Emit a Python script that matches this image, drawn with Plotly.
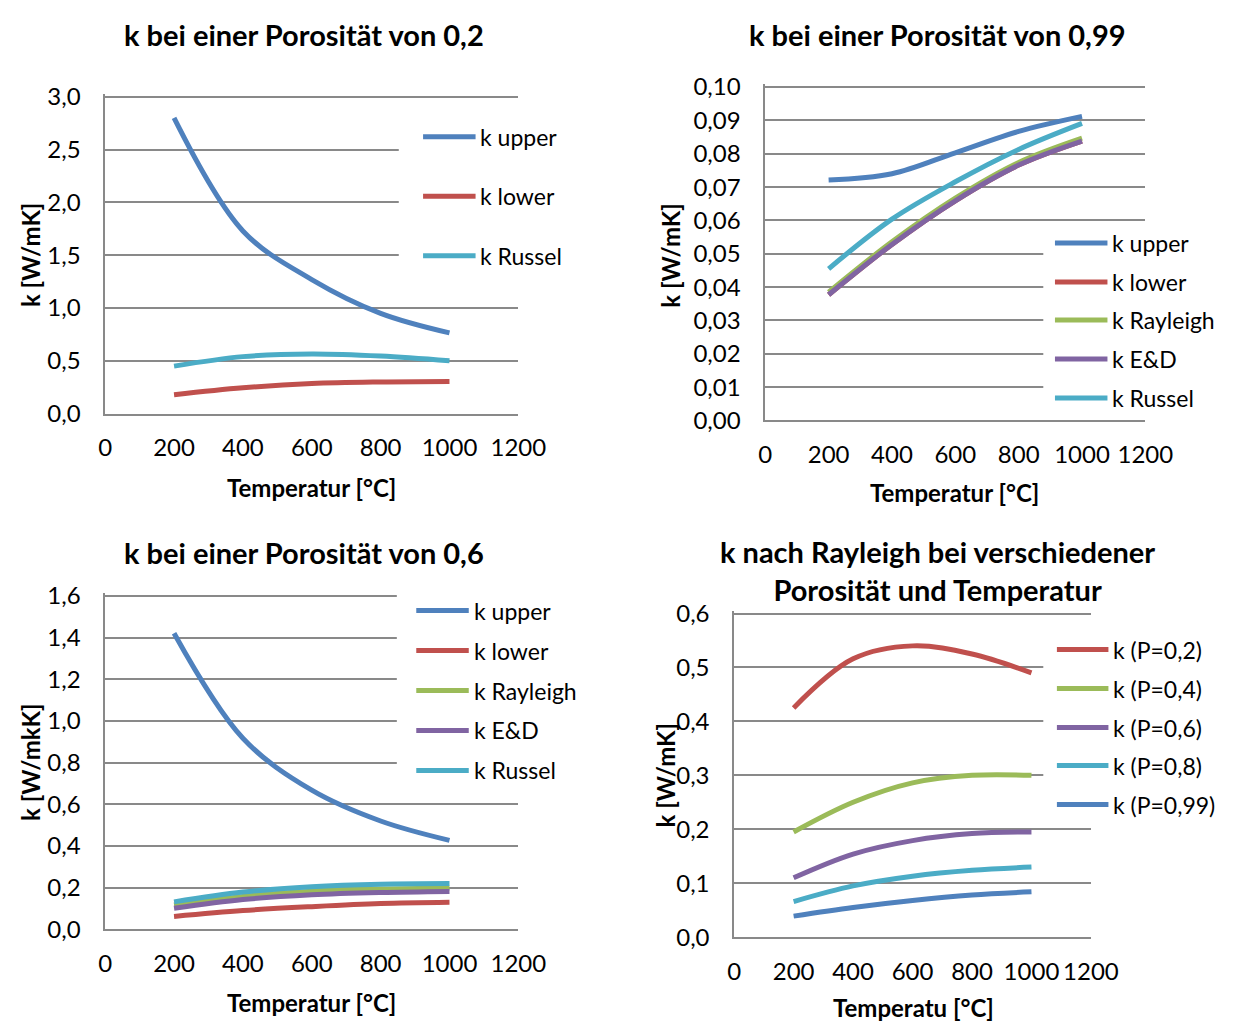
import plotly.graph_objects as go

# Temperatures [°C]
temps = [200, 400, 600, 800, 1000]

# Porosity 0.2
p02_upper = [2.80, 1.73, 1.27, 0.95, 0.765]
p02_lower = [0.18, 0.245, 0.285, 0.30, 0.305]
p02_russel = [0.45, 0.54, 0.565, 0.545, 0.50]

# Porosity 0.99
p099_upper = [0.0721, 0.0740, 0.0803, 0.0867, 0.0912]
p099_lower = [0.0377, 0.0528, 0.0659, 0.0766, 0.0838]
p099_rayleigh = [0.0385, 0.0536, 0.0667, 0.0774, 0.0847]
p099_ed = [0.0377, 0.0528, 0.0659, 0.0766, 0.0838]
p099_russel = [0.0455, 0.0604, 0.0716, 0.0813, 0.0891]

# Porosity 0.6
p06_upper = [1.421, 0.917, 0.668, 0.52, 0.427]
p06_lower = [0.062, 0.090, 0.109, 0.124, 0.130]
p06_rayleigh = [0.117, 0.158, 0.183, 0.194, 0.199]
p06_ed = [0.101, 0.143, 0.166, 0.177, 0.182]
p06_russel = [0.132, 0.179, 0.205, 0.217, 0.220]

# Rayleigh model at different porosities
ray_p02 = [0.425, 0.516, 0.540, 0.525, 0.490]
ray_p04 = [0.195, 0.250, 0.286, 0.300, 0.300]
ray_p06 = [0.110, 0.154, 0.179, 0.192, 0.195]
ray_p08 = [0.066, 0.095, 0.113, 0.124, 0.130]
ray_p099 = [0.039, 0.055, 0.068, 0.078, 0.084]

BLUE, RED, GREEN, PURPLE, CYAN = "#4F81BD", "#C0504D", "#9BBB59", "#8064A2", "#4BACC6"
GRID = "#898989"
FONT = "Lato"
W, H = 1256, 1034
LW = 5
PAD = 3  # headroom (px) so the top gridline is not clipped at the plot edge


def px(x):
    return x / W


def py(y):
    return 1 - y / H


panels = [
    dict(xa="x", ya="y", xdom=(101, 526), ydom=(411, 86), ymax=3.0, dtick=0.5, fmt=".1f",
         series=[("k upper", p02_upper, BLUE), ("k lower", p02_lower, RED), ("k Russel", p02_russel, CYAN)],
         title="k bei einer Porosität von 0,2", tpos=(305, 22),
         xtitle="Temperatur [°C]", xtpos=(313, 487), ytitle="k [W/mK]", ytpos=(24, 248),
         leg=dict(x0=428, x1=482, ys=[127, 188, 249]), box=(403, 100, 620, 285)),
    dict(xa="x2", ya="y2", xdom=(780, 1171), ydom=(418, 76), ymax=0.10, dtick=0.01, fmt=".2f",
         series=[("k upper", p099_upper, BLUE), ("k lower", p099_lower, RED),
                 ("k Rayleigh", p099_rayleigh, GREEN), ("k E&D", p099_ed, PURPLE),
                 ("k Russel", p099_russel, CYAN)],
         title="k bei einer Porosität von 0,99", tpos=(957, 22),
         xtitle="Temperatur [°C]", xtpos=(975, 492), ytitle="k [W/mK]", ytpos=(683, 248),
         leg=dict(x0=1078, x1=1132, ys=[236, 276, 315, 355, 395]), box=(1066, 222, 1256, 405)),
    dict(xa="x3", ya="y3", xdom=(101, 526), ydom=(940, 598), ymax=1.6, dtick=0.2, fmt=".1f",
         series=[("k upper", p06_upper, BLUE), ("k lower", p06_lower, RED),
                 ("k Rayleigh", p06_rayleigh, GREEN), ("k E&D", p06_ed, PURPLE),
                 ("k Russel", p06_russel, CYAN)],
         title="k bei einer Porosität von 0,6", tpos=(305, 553),
         xtitle="Temperatur [°C]", xtpos=(313, 1015), ytitle="k [W/mkK]", ytpos=(24, 768),
         leg=dict(x0=421, x1=475, ys=[613, 654, 695, 736, 777]), box=(401, 588, 620, 797)),
    dict(xa="x4", ya="y4", xdom=(748, 1115), ydom=(948, 616), ymax=0.6, dtick=0.1, fmt=".1f",
         series=[("k (P=0,2)", ray_p02, RED), ("k (P=0,4)", ray_p04, GREEN),
                 ("k (P=0,6)", ray_p06, PURPLE), ("k (P=0,8)", ray_p08, CYAN),
                 ("k (P=0,99)", ray_p099, BLUE)],
         title="k nach Rayleigh bei verschiedener<br>Porosität und Temperatur", tpos=(957, 572),
         xtitle="Temperatu [°C]", xtpos=(932, 1020), ytitle="k [W/mK]", ytpos=(677, 782),
         leg=dict(x0=1080, x1=1133, ys=[653, 693, 733, 772, 812]), box=(1066, 632, 1256, 826)),
]

fig = go.Figure()
shapes, annotations = [], []
layout = dict(
    width=W, height=H, margin=dict(l=0, r=0, t=0, b=0),
    paper_bgcolor="white", plot_bgcolor="white", showlegend=False,
    separators=", ", font=dict(family=FONT, size=22, color="#000000"),
)

for i, p in enumerate(panels):
    n = "" if i == 0 else str(i + 1)
    for name, vals, col in p["series"]:
        fig.add_trace(go.Scatter(
            x=temps, y=vals, name=name, mode="lines", xaxis=p["xa"], yaxis=p["ya"],
            line=dict(color=col, width=LW, shape="spline", smoothing=1.0),
        ))
    layout["xaxis" + n] = dict(
        domain=[px(p["xdom"][0]), px(p["xdom"][1])], anchor=p["ya"], range=[0, 1200],
        dtick=200, tick0=0, tickformat="d", showgrid=False, zeroline=False,
        showline=True, linecolor=GRID, linewidth=1.6,
        ticks="", ticklabelstandoff=12, tickfont=dict(family=FONT, size=24, color="#000"),
    )
    y_bot, y_top = p["ydom"]
    span = y_bot - y_top
    layout["yaxis" + n] = dict(
        domain=[py(y_bot), py(y_top - PAD)], anchor=p["xa"],
        range=[0, p["ymax"] * (span + PAD) / span],
        dtick=p["dtick"], tick0=0, tickformat=p["fmt"], showgrid=True, gridcolor=GRID,
        gridwidth=1.6, zeroline=False, showline=True, linecolor=GRID, linewidth=1.6,
        ticks="", ticklabelstandoff=18, tickfont=dict(family=FONT, size=24, color="#000"),
    )
    # legend background hiding the gridlines behind it
    bx0, by0, bx1, by1 = p["box"]
    shapes.append(dict(type="rect", xref="paper", yref="paper", x0=px(bx0), x1=px(bx1),
                       y0=py(by1), y1=py(by0), fillcolor="white", line=dict(width=0),
                       layer="above"))
    leg = p["leg"]
    for (name, _, col), yy in zip(p["series"], leg["ys"]):
        shapes.append(dict(type="line", xref="paper", yref="paper", x0=px(leg["x0"]),
                           x1=px(leg["x1"]), y0=py(yy), y1=py(yy),
                           line=dict(color=col, width=LW), layer="above"))
        annotations.append(dict(text=name, xref="paper", yref="paper", x=px(leg["x1"] + 3),
                                y=py(yy), xanchor="left", yanchor="middle", showarrow=False,
                                font=dict(family=FONT, size=23, color="#000")))
    annotations.append(dict(text="<b>%s</b>" % p["title"], xref="paper", yref="paper",
                            x=px(p["tpos"][0]), y=py(p["tpos"][1]), xanchor="center",
                            yanchor="middle", showarrow=False,
                            font=dict(family=FONT, size=29, color="#000")))
    annotations.append(dict(text="<b>%s</b>" % p["xtitle"], xref="paper", yref="paper",
                            x=px(p["xtpos"][0]), y=py(p["xtpos"][1]), xanchor="center",
                            yanchor="middle", showarrow=False,
                            font=dict(family=FONT, size=24, color="#000")))
    annotations.append(dict(text="<b>%s</b>" % p["ytitle"], xref="paper", yref="paper",
                            x=px(p["ytpos"][0]), y=py(p["ytpos"][1]), xanchor="center",
                            yanchor="middle", showarrow=False, textangle=-90,
                            font=dict(family=FONT, size=24, color="#000")))

layout["shapes"] = shapes
layout["annotations"] = annotations
fig.update_layout(**layout)
fig.write_html("out.html")
